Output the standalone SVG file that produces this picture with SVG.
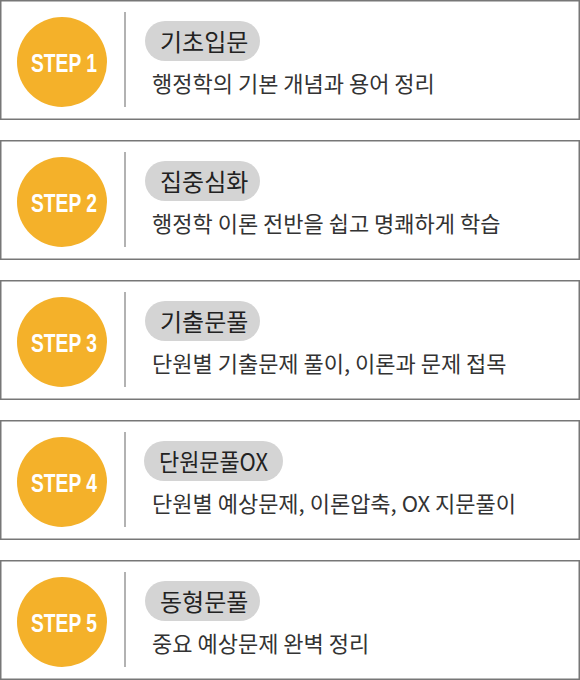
<svg xmlns="http://www.w3.org/2000/svg" width="580" height="680" viewBox="0 0 580 680">
<style>
.box{fill:#fff;stroke:#777;stroke-width:1.5}
.circ{fill:#F4B12A}
.step{font-family:"Liberation Sans",Arial,sans-serif;font-weight:bold;font-size:26px;fill:#fff;text-anchor:middle}
.div{stroke:#999;stroke-width:1.5}
.pill{fill:#D4D4D4}
.title{font-family:"Noto Sans CJK KR","Noto Sans",sans-serif;font-size:24px;fill:#222}
.desc{font-family:"Noto Sans CJK KR","Noto Sans",sans-serif;font-size:22px;fill:#333}
</style>
<g id="step1" transform="translate(0,0)">
<rect class="box" x="0.75" y="0.75" width="578.5" height="118.5"/>
<circle class="circ" cx="62" cy="62" r="45"/>
<text class="step" x="64" y="72" textLength="66" lengthAdjust="spacingAndGlyphs">STEP 1</text>
<line class="div" x1="125" y1="12" x2="125" y2="107"/>
<rect class="pill" x="145" y="21" width="115" height="40" rx="20"/>
<text class="title" x="160" y="51">기초입문</text>
<text class="desc" x="152" y="92">행정학의 기본 개념과 용어 정리</text>
</g>
<g id="step2" transform="translate(0,140)">
<rect class="box" x="0.75" y="0.75" width="578.5" height="118.5"/>
<circle class="circ" cx="62" cy="62" r="45"/>
<text class="step" x="64" y="72" textLength="66" lengthAdjust="spacingAndGlyphs">STEP 2</text>
<line class="div" x1="125" y1="12" x2="125" y2="107"/>
<rect class="pill" x="145" y="21" width="115" height="40" rx="20"/>
<text class="title" x="160" y="51">집중심화</text>
<text class="desc" x="152" y="92">행정학 이론 전반을 쉽고 명쾌하게 학습</text>
</g>
<g id="step3" transform="translate(0,280)">
<rect class="box" x="0.75" y="0.75" width="578.5" height="118.5"/>
<circle class="circ" cx="62" cy="62" r="45"/>
<text class="step" x="64" y="72" textLength="66" lengthAdjust="spacingAndGlyphs">STEP 3</text>
<line class="div" x1="125" y1="12" x2="125" y2="107"/>
<rect class="pill" x="145" y="21" width="115" height="40" rx="20"/>
<text class="title" x="160" y="51">기출문풀</text>
<text class="desc" x="152" y="92">단원별 기출문제 풀이, 이론과 문제 접목</text>
</g>
<g id="step4" transform="translate(0,420)">
<rect class="box" x="0.75" y="0.75" width="578.5" height="118.5"/>
<circle class="circ" cx="62" cy="62" r="45"/>
<text class="step" x="64" y="72" textLength="66" lengthAdjust="spacingAndGlyphs">STEP 4</text>
<line class="div" x1="125" y1="12" x2="125" y2="107"/>
<rect class="pill" x="144" y="21" width="139" height="40" rx="20"/>
<text class="title" x="159" y="51" textLength="109" lengthAdjust="spacingAndGlyphs">단원문풀OX</text>
<text class="desc" x="152" y="92">단원별 예상문제, 이론압축, OX 지문풀이</text>
</g>
<g id="step5" transform="translate(0,560)">
<rect class="box" x="0.75" y="0.75" width="578.5" height="118.5"/>
<circle class="circ" cx="62" cy="62" r="45"/>
<text class="step" x="64" y="72" textLength="66" lengthAdjust="spacingAndGlyphs">STEP 5</text>
<line class="div" x1="125" y1="12" x2="125" y2="107"/>
<rect class="pill" x="145" y="21" width="115" height="40" rx="20"/>
<text class="title" x="160" y="51">동형문풀</text>
<text class="desc" x="152" y="92">중요 예상문제 완벽 정리</text>
</g>
<g id="connectors"></g>
</svg>
